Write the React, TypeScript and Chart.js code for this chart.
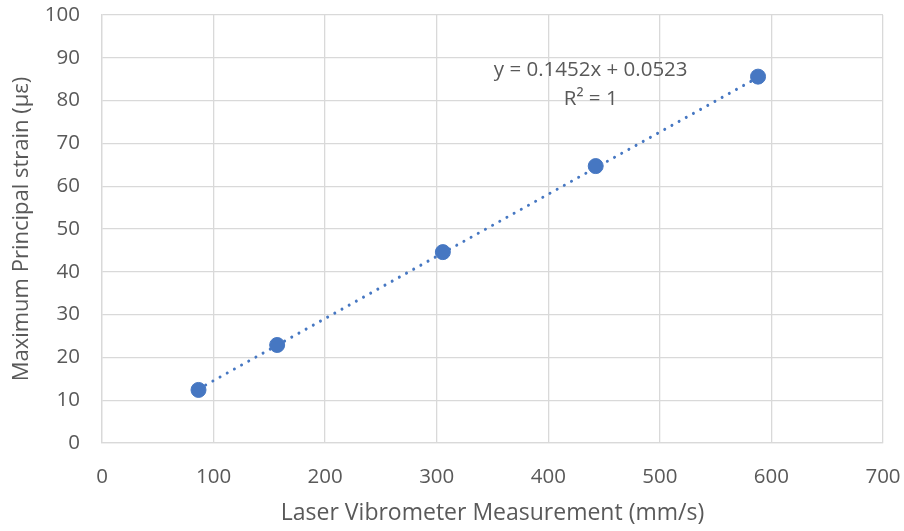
import React, { useEffect, useRef } from "react";
import { Chart, registerables } from "chart.js";

Chart.register(...registerables);

// Data
const velocity = [86.5, 157, 305.5, 442.5, 588]; // mm/s
const strain = [12.4, 22.9, 44.6, 64.7, 85.6]; // µε
const trendSlope = 0.1452;
const trendIntercept = 0.0523;
const equationLines = ["y = 0.1452x + 0.0523", "R² = 1"];

const xTitle = "Laser Vibrometer Measurement (mm/s)";
const yTitle = "Maximum Principal strain (µε)";

const BLUE = "#4677C2";
const TEXT = "#595959";
const GRID = "#d9d9d9";
const FONT = "'Open Sans', sans-serif";

export default function App() {
  const ref = useRef<HTMLCanvasElement>(null);

  useEffect(() => {
    document.body.style.margin = "0";
    const canvas = ref.current!;
    const x0 = velocity[0];
    const x1 = velocity[velocity.length - 1];
    const trend = [
      { x: x0, y: trendSlope * x0 + trendIntercept },
      { x: x1, y: trendSlope * x1 + trendIntercept },
    ];

    const labelPlugin = {
      id: "eqLabel",
      afterDatasetsDraw(chart: any) {
        const { ctx, scales } = chart;
        const cx = scales.x.getPixelForValue(438);
        const cy = scales.y.getPixelForValue(87.2);
        ctx.save();
        ctx.fillStyle = TEXT;
        ctx.font = `20.5px ${FONT}`;
        ctx.textAlign = "center";
        ctx.textBaseline = "middle";
        ctx.fillText(equationLines[0], cx, cy);
        ctx.fillText(equationLines[1], cx, cy + 29);
        ctx.restore();
      },
    };

    const chart = new Chart(canvas, {
      type: "scatter",
      data: {
        datasets: [
          {
            label: "data",
            data: velocity.map((v, i) => ({ x: v, y: strain[i] })),
            backgroundColor: BLUE,
            borderColor: BLUE,
            pointRadius: 7.5,
            pointHoverRadius: 7.5,
            order: 1,
          },
          {
            label: "trend",
            type: "line",
            data: trend,
            borderColor: BLUE,
            borderWidth: 3,
            borderDash: [0.01, 8.2],
            borderCapStyle: "round",
            pointRadius: 0,
            fill: false,
            order: 2,
          } as any,
        ],
      },
      options: {
        animation: false,
        responsive: false,
        layout: { padding: { top: 15, right: 21, left: 0, bottom: 0 } },
        plugins: {
          legend: { display: false },
          tooltip: { enabled: false },
        },
        scales: {
          x: {
            type: "linear",
            min: 0,
            max: 700,
            ticks: {
              stepSize: 100,
              color: TEXT,
              font: { family: FONT, size: 20.5 },
              padding: 22,
              maxRotation: 0,
            },
            grid: { color: GRID, lineWidth: 1.3, drawTicks: false },
            border: { color: GRID, width: 1.3 },
            title: {
              display: true,
              text: xTitle,
              color: TEXT,
              font: { family: FONT, size: 23 },
              padding: { top: 8, bottom: 4 },
            },
            afterFit(scale: any) {
              scale.height = 88;
              scale.paddingLeft = 0;
              scale.paddingRight = 0;
            },
          },
          y: {
            type: "linear",
            min: 0,
            max: 100,
            ticks: {
              stepSize: 10,
              color: TEXT,
              font: { family: FONT, size: 20.5 },
              padding: 22,
            },
            grid: { color: GRID, lineWidth: 1.3, drawTicks: false },
            border: { color: GRID, width: 1.3 },
            title: {
              display: true,
              text: yTitle,
              color: TEXT,
              font: { family: FONT, size: 22 },
              padding: { top: 9, bottom: 0 },
            },
            afterFit(scale: any) {
              scale.width = 102;
              scale.paddingTop = 0;
              scale.paddingBottom = 0;
            },
          },
        },
      },
      plugins: [labelPlugin],
    });
    return () => chart.destroy();
  }, []);

  return <canvas ref={ref} width={904} height={531} style={{ display: "block" }} />;
}
